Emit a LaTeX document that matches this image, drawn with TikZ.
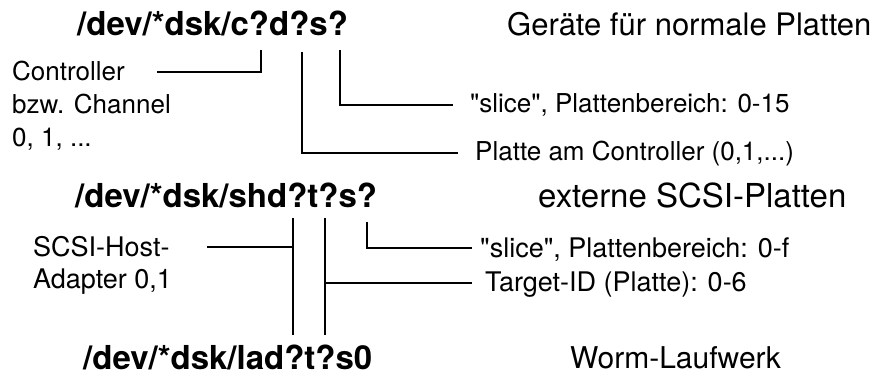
\documentclass[tikz,border=0pt]{standalone}
\usepackage{fontspec}
\setmainfont{TeX Gyre Heros}
\tikzset{
  devname/.style={anchor=base west, inner sep=0pt, font=\fontsize{33}{38}\selectfont\bfseries},
  heading/.style={anchor=base west, inner sep=0pt, font=\fontsize{31}{35}\selectfont},
  note/.style={anchor=base west, inner sep=0pt, font=\fontsize{26}{30}\selectfont},
  bignote/.style={note, font=\fontsize{27}{31}\selectfont},
  leader/.style={line width=1.8pt, line cap=butt, line join=miter}
}
\begin{document}
\begin{tikzpicture}[x=1pt, y=-1pt]
  \useasboundingbox (0,0) rectangle (889,378);

  % --- normal disks ---
  \node[devname] (t1) at (77,35) {/dev/*dsk/c?d?s?};
  \node[heading] (h1) at (507,35) {Geräte für normale Platten};
  \node[note] (c1) at (12,80) {Controller};
  \node[note] (c2) at (12,113) {bzw. Channel};
  \node[note] (c3) at (12,146) {0, 1, ...};
  \node[note] (s1) at (470,112) {\textquotedbl slice\textquotedbl, Plattenbereich: 0-15};
  \node[note] (p1) at (475,160) {Platte am Controller (0,1,...)};

  \coordinate (cA) at (157,72);
  \coordinate (cB) at (261,72);
  \coordinate (cC) at (261,50);
  \coordinate (dA) at (302,52);
  \coordinate (dB) at (302,153);
  \coordinate (dC) at (458,153);
  \coordinate (sA) at (340,50);
  \coordinate (sB) at (340,105);
  \coordinate (sC) at (453,105);
  \draw[leader] (cA) -- (cB) -- (cC);
  \draw[leader] (dA) -- (dB) -- (dC);
  \draw[leader] (sA) -- (sB) -- (sC);

  % --- external SCSI disks ---
  \node[devname] (t2) at (75,207) {/dev/*dsk/shd?t?s?};
  \node[heading, font=\fontsize{33}{37}\selectfont] (h2) at (538,207) {externe SCSI-Platten};
  \node[bignote] (a1) at (33,256) {SCSI-Host-};
  \node[bignote] (a2) at (33,288) {Adapter 0,1};
  \node[bignote] (s2) at (480,257) {\textquotedbl slice\textquotedbl, Plattenbereich: 0-f};
  \node[bignote] (g2) at (485,291) {Target-ID (Platte): 0-6};

  \coordinate (hA) at (207,247);
  \coordinate (hB) at (293,247);
  \coordinate (hT) at (293,218);
  \coordinate (hU) at (293,335);
  \coordinate (tT) at (325,218);
  \coordinate (tU) at (325,335);
  \coordinate (tB) at (325,283);
  \coordinate (tC) at (472,283);
  \coordinate (xA) at (367,222);
  \coordinate (xB) at (367,248);
  \coordinate (xC) at (472,248);
  \draw[leader] (hA) -- (hB);
  \draw[leader] (hT) -- (hU);
  \draw[leader] (tT) -- (tU);
  \draw[leader] (tB) -- (tC);
  \draw[leader] (xA) -- (xB) -- (xC);

  % --- WORM drive ---
  \node[devname] (t3) at (83,369) {/dev/*dsk/lad?t?s0};
  \node[heading, font=\fontsize{30}{34}\selectfont] (h3) at (570,368) {Worm-Laufwerk};
\end{tikzpicture}
\end{document}
